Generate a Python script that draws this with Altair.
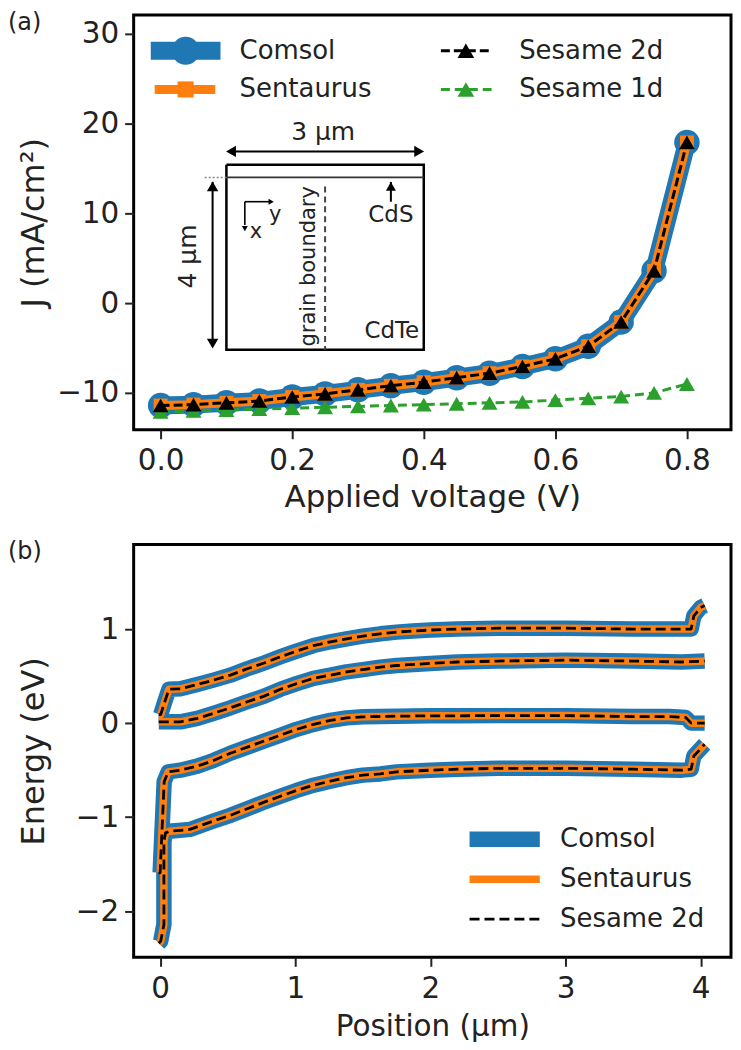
import altair as alt
import pandas as pd

FONT = "DejaVu Sans"
BLUE, ORANGE, GREEN = "#1f77b4", "#ff7f0e", "#2ca02c"

voltage = [0, .05, .1, .15, .2, .25, .3, .35, .4, .45, .5, .55, .6, .65, .7, .75, .8]
j_2d = [-11.4, -11.3, -11.1, -10.9, -10.45, -10.1, -9.65, -9.2, -8.8, -8.3, -7.8, -7.05, -6.2, -4.8, -2.1, 3.6, 17.9]
j_1d = [-12.1, -12.0, -11.9, -11.8, -11.7, -11.6, -11.5, -11.4, -11.3, -11.2, -11.1, -11.0, -10.8, -10.6, -10.4, -10.0, -9.0]

c1_x = [-.01, .004, .028, .065, .15, .275, .395, .52, .645, .77, .89, 1.01, 1.135, 1.26, 1.38, 1.5, 1.63, 1.75, 1.87, 2, 2.2, 2.5, 3, 3.5, 3.86, 3.93, 3.95, 4.0, 4.03]
c1_y = [.09, .09, .2, .36, .365, .41, .457, .51, .578, .64, .705, .766, .825, .865, .897, .925, .95, .968, .98, .99, 1.0, 1.01, 1.01, 1.0, 1.0, 1.0, 1.14, 1.23, 1.25]
c2_x = [-.01, .004, .15, .275, .395, .52, .645, .77, .89, 1.01, 1.135, 1.26, 1.38, 1.5, 1.63, 1.75, 2, 2.2, 2.5, 3, 3.5, 3.86, 4.03]
c2_y = [.014, .014, .014, .05, .105, .163, .227, .287, .36, .42, .477, .51, .546, .57, .596, .613, .635, .65, .66, .67, .66, .65, .66]
c3_x = [-.01, .0, .03, .06, .15, .275, .395, .52, .645, .77, .89, 1.01, 1.135, 1.26, 1.38, 1.5, 1.75, 2, 2.2, 2.5, 3, 3.5, 3.77, 3.89, 3.93, 4.03]
c3_y = [-1.6, -1.59, -.62, -.518, -.50, -.457, -.397, -.32, -.255, -.19, -.128, -.066, -.013, .03, .056, .067, .074, .078, .078, .08, .08, .07, .07, .06, 0, 0]
c4_x = [-.01, .004, .028, .028, .04, .07, .22, .395, .52, .645, .77, .89, 1.01, 1.135, 1.26, 1.38, 1.5, 1.63, 1.75, 2, 2.2, 2.5, 3, 3.5, 3.86, 3.93, 3.95, 4.03]
c4_y = [-2.34, -2.32, -2.14, -1.255, -1.167, -1.15, -1.13, -1.04, -.98, -.91, -.84, -.777, -.716, -.66, -.617, -.58, -.553, -.54, -.518, -.5, -.49, -.48, -.48, -.49, -.5, -.49, -.35, -.225]

a_x_dom = [-.041, .867]
a_y_dom = [-14.1, 32.1]
b_x_dom = [-.196, 4.225]
b_y_dom = [-2.49, 1.90]
W, H_A, H_B = 599, 416, 414

xa = alt.X("x:Q", title="Applied voltage (V)", scale=alt.Scale(domain=a_x_dom, nice=False, zero=False),
           axis=alt.Axis(values=[0, .2, .4, .6, .8], format=".1f", grid=False, labelPadding=8, titlePadding=7.5, titleFontSize=31))
ya = alt.Y("y:Q", title="J (mA/cm²)", scale=alt.Scale(domain=a_y_dom, nice=False, zero=False),
           axis=alt.Axis(values=[-10, 0, 10, 20, 30], grid=False, titlePadding=6, titleFontSize=32))
xb = alt.X("x:Q", title="Position (µm)", scale=alt.Scale(domain=b_x_dom, nice=False, zero=False),
           axis=alt.Axis(values=[0, 1, 2, 3, 4], grid=False, labelPadding=8, titlePadding=10, titleFontSize=29.5))
yb = alt.Y("y:Q", title="Energy (eV)", scale=alt.Scale(domain=b_y_dom, nice=False, zero=False),
           axis=alt.Axis(values=[-2, -1, 0, 1], grid=False, titlePadding=25, titleFontSize=32))


def frame(xs, ys):
    return pd.DataFrame({"x": xs, "y": ys, "i": range(len(xs))})


def line(df, xe, ye, color, width, dash=None, join="round"):
    kw = {"strokeDash": dash} if dash else {}
    return alt.Chart(df).mark_line(color=color, strokeWidth=width, strokeJoin=join, **kw).encode(
        x=xe, y=ye, order="i:Q")


def points(df, xe, ye, shape, color, size):
    return alt.Chart(df).mark_point(shape=shape, filled=True, fill=color, color=color, opacity=1, size=size).encode(x=xe, y=ye)


def label(x, y, txt, xe, ye, size=26, align="left", angle=0, color="#222222"):
    return alt.Chart(pd.DataFrame({"x": [x], "y": [y], "t": [txt]})).mark_text(
        font=FONT, fontSize=size, align=align, baseline="middle", angle=angle, color=color
    ).encode(x=xe, y=ye, text="t:N")


def seg(xs, ys, xe, ye, color="black", width=2, dash=None):
    return line(frame(xs, ys), xe, ye, color, width, dash, "miter")


def tag(txt):
    return alt.Chart(pd.DataFrame({"t": [txt]})).mark_text(
        font=FONT, fontSize=24, align="left", baseline="middle", color="#222222"
    ).encode(x=alt.value(-126), y=alt.value(8), text="t:N")


# ---- Panel (a)
df2 = frame(voltage, j_2d)
df1 = frame(voltage, j_1d)
layers_a = [
    line(df2, xa, ya, BLUE, 18), points(df2, xa, ya, "circle", BLUE, 650),
    line(df2, xa, ya, ORANGE, 9), points(df2, xa, ya, "square", ORANGE, 196),
    line(df1, xa, ya, GREEN, 3, [9, 5]), points(df1, xa, ya, "triangle-up", GREEN, 256),
    line(df2, xa, ya, "black", 3, [9, 4]), points(df2, xa, ya, "triangle-up", "black", 250),
]
# legend (a)
leg_y = [28.1, 23.8]
layers_a += [
    seg([-.015, .091], [leg_y[0]] * 2, xa, ya, BLUE, 18),
    points(frame([.038], [leg_y[0]]), xa, ya, "circle", BLUE, 784),
    seg([-.009, .083], [leg_y[1]] * 2, xa, ya, ORANGE, 9),
    points(frame([.038], [leg_y[1]]), xa, ya, "square", ORANGE, 260),
    seg([.426, .503], [leg_y[0]] * 2, xa, ya, "black", 3, [9, 4]),
    points(frame([.464], [leg_y[0]]), xa, ya, "triangle-up", "black", 280),
    seg([.426, .503], [leg_y[1]] * 2, xa, ya, GREEN, 3, [9, 5]),
    points(frame([.464], [leg_y[1]]), xa, ya, "triangle-up", GREEN, 280),
    label(.12, leg_y[0], "Comsol", xa, ya), label(.12, leg_y[1], "Sentaurus", xa, ya),
    label(.545, leg_y[0], "Sesame 2d", xa, ya), label(.545, leg_y[1], "Sesame 1d", xa, ya),
]
# inset (a)
box_x = [.1, .1, .4, .4, .1]
box_y = [15.4, -5.2, -5.2, 15.4, 15.4]
layers_a += [
    seg(box_x, box_y, xa, ya, "black", 2.5),
    seg([.1, .4], [14, 14], xa, ya, "#333333", 1.8),
    seg([.067, .1], [14, 14], xa, ya, "#888888", 1.5, [2, 2]),
    seg([.25, .25], [13, -5.2], xa, ya, "#444444", 2, [6, 4]),
    seg([.105, .395], [16.9, 16.9], xa, ya, "black", 2),
    points(frame([.107], [16.9]), xa, ya, "triangle-left", "black", 130),
    points(frame([.393], [16.9]), xa, ya, "triangle-right", "black", 130),
    seg([.079, .079], [13.5, -4.5], xa, ya, "black", 2),
    points(frame([.079], [13]), xa, ya, "triangle-up", "black", 130),
    points(frame([.079], [-4.5]), xa, ya, "triangle-down", "black", 130),
    seg([.35, .35], [11.3, 13.5], xa, ya, "black", 2),
    points(frame([.35], [13]), xa, ya, "triangle-up", "black", 100),
    seg([.128, .165], [11.3, 11.3], xa, ya, "black", 1.6),
    points(frame([.168], [11.3]), xa, ya, "triangle-right", "black", 36),
    seg([.128, .128], [11.3, 8.7], xa, ya, "black", 1.6),
    points(frame([.128], [8.3]), xa, ya, "triangle-down", "black", 36),
    label(.247, 19.1, "3 µm", xa, ya, 25, "center"),
    label(.042, 5.2, "4 µm", xa, ya, 25, "center", 270),
    label(.35, 9.8, "CdS", xa, ya, 23, "center"),
    label(.393, -3.1, "CdTe", xa, ya, 23, "right"),
    label(.226, 4.1, "grain boundary", xa, ya, 21, "center", 270),
    label(.174, 9.8, "y", xa, ya, 21, "center"),
    label(.145, 7.9, "x", xa, ya, 21, "center"),
]
panel_a = alt.layer(*layers_a, tag("(a)")).properties(width=W, height=H_A)

# ---- Panel (b)
curves = [frame(c1_x, c1_y), frame(c2_x, c2_y), frame(c3_x, c3_y), frame(c4_x, c4_y)]
layers_b = []
for color, width, dash in [(BLUE, 15.5, None), (ORANGE, 7.5, None), ("black", 2.8, [10, 5])]:
    layers_b += [line(c, xb, yb, color, width, dash) for c in curves]
leg_b = [-1.234, -1.66, -2.085]
layers_b += [
    seg([2.29, 2.81], [leg_b[0]] * 2, xb, yb, BLUE, 15.5),
    seg([2.29, 2.81], [leg_b[1]] * 2, xb, yb, ORANGE, 7.5),
    seg([2.29, 2.81], [leg_b[2]] * 2, xb, yb, "black", 2.8, [10, 5]),
    label(2.96, leg_b[0], "Comsol", xb, yb), label(2.96, leg_b[1], "Sentaurus", xb, yb),
    label(2.96, leg_b[2], "Sesame 2d", xb, yb),
]
panel_b = alt.layer(*layers_b, tag("(b)")).properties(width=W, height=H_B)

chart = alt.vconcat(panel_a, panel_b, spacing=24).properties(
    padding={"left": -2, "top": -0.5, "right": 0, "bottom": 0}
).configure_view(stroke="black", strokeWidth=3).configure_axis(
    labelFont=FONT, titleFont=FONT, labelFontSize=29.5, titleFontWeight="normal",
    labelColor="#222222", titleColor="#222222", tickColor="#222222", tickWidth=2, tickSize=9,
    domain=False, labelPadding=6
)

chart.save("out.html", embed_options={"renderer": "svg", "actions": False})
